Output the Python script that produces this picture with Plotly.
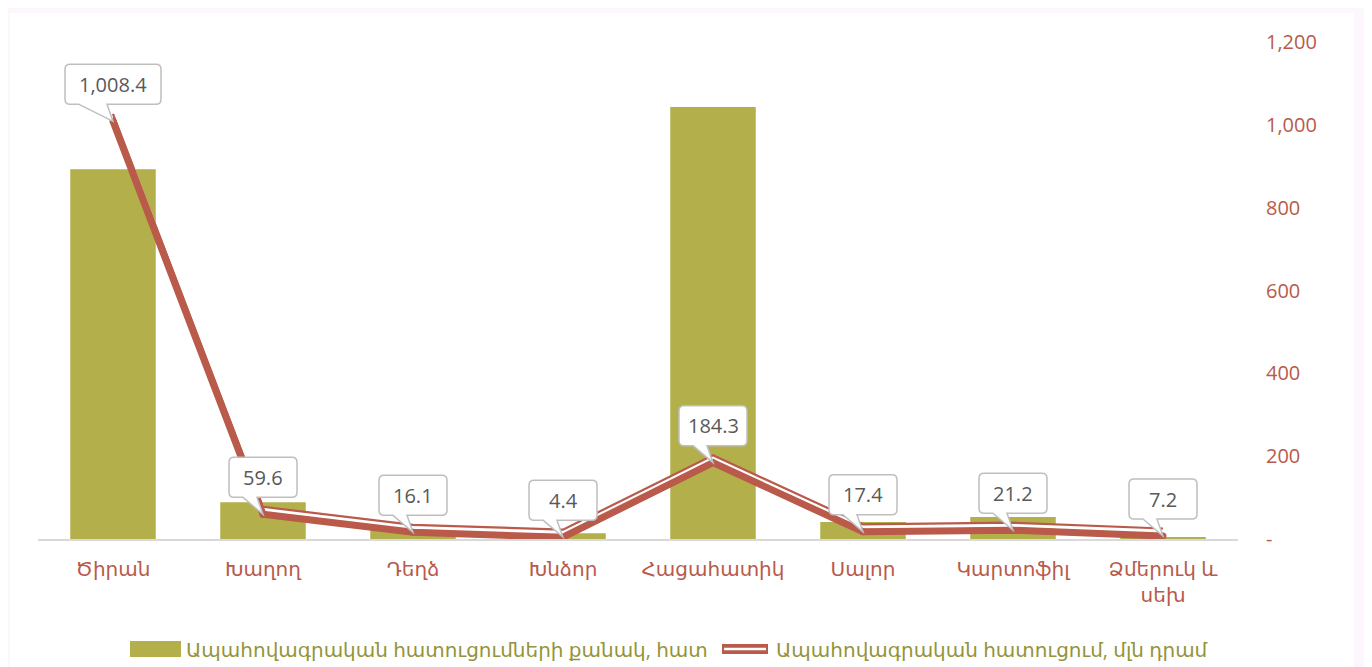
import plotly.graph_objects as go

categories = ["Ծիրան", "Խաղող", "Դեղձ", "Խնձոր", "Հացահատիկ", "Սալոր", "Կարտոֆիլ", "Ձմերուկ և<br>սեխ"]
claims_count = [893, 89, 29, 14, 1043, 41, 53, 4]
claims_amount = [1008.4, 59.6, 16.1, 4.4, 184.3, 17.4, 21.2, 7.2]
amount_labels = ["1,008.4", "59.6", "16.1", "4.4", "184.3", "17.4", "21.2", "7.2"]
y_tickvals = [0, 200, 400, 600, 800, 1000, 1200]
y_ticktext = ["-", "200", "400", "600", "800", "1,000", "1,200"]

name_bar = "Ապահովագրական հատուցումների քանակ, հատ"
name_line = "Ապահովագրական հատուցում, մլն դրամ"

# the page body has an 8px margin; figure sized/placed to compensate
BODY = 8
W, H = 1372 - BODY, 667 - BODY
ML, MT = 38 - BODY, 42 - BODY
PLOT_R, PLOT_B = 1238 - BODY, 539 - BODY
MR, MB = W - PLOT_R, H - PLOT_B
plot_w = W - ML - MR
plot_h = H - MT - MB
YMAX = 1200
px2u = YMAX / plot_h


def px_x(px):
    return (px - BODY - ML) / plot_w


def px_y(py):
    return (PLOT_B - (py - BODY)) / plot_h


RED = "#b95a4b"
OLIVE = "#b3af4a"
LEG_TXT = "#94943a"
FONT = "Open Sans, DejaVu Sans, sans-serif"

xs = list(range(len(categories)))

fig = go.Figure()
fig.add_trace(go.Bar(
    x=xs, y=claims_count, name=name_bar, marker=dict(color=OLIVE, line=dict(width=0)),
    width=0.57, yaxis="y", showlegend=False,
))
fig.add_trace(go.Scatter(
    x=xs, y=[v + 5 * px2u for v in claims_amount], mode="lines",
    line=dict(color="white", width=4), yaxis="y2", showlegend=False, hoverinfo="skip",
))
fig.add_trace(go.Scatter(
    x=xs, y=[v + 7.5 * px2u for v in claims_amount], mode="lines",
    line=dict(color=RED, width=2.2), yaxis="y2", showlegend=False, hoverinfo="skip",
))
fig.add_trace(go.Scatter(
    x=xs, y=claims_amount, mode="lines+markers", name=name_line,
    line=dict(color=RED, width=7), marker=dict(color=RED, size=7), yaxis="y2",
    showlegend=False,
))

shapes = [dict(type="rect", xref="paper", yref="paper",
               x0=px_x(10), x1=px_x(1354), y0=px_y(700), y1=px_y(13),
               fillcolor="white", line=dict(width=0), layer="below")]
annotations = []
for i, (v, lab) in enumerate(zip(claims_amount, amount_labels)):
    bw = max(68, 14 * len(lab) - 2)
    h = bw / 2
    b, t, r = 17, 57, 5
    bl, br = -h + 14, -6
    path = (f"M {bl},{b} L 0,0 L {br},{b} L {h - r},{b} Q {h},{b} {h},{b + r} "
            f"L {h},{t - r} Q {h},{t} {h - r},{t} L {-h + r},{t} Q {-h},{t} {-h},{t - r} "
            f"L {-h},{b + r} Q {-h},{b} {-h + r},{b} Z")
    shapes.append(dict(type="path", xref="x", yref="y2", xsizemode="pixel", ysizemode="pixel",
                       xanchor=i, yanchor=v, path=path, fillcolor="white",
                       line=dict(color="#bfbfbf", width=1.5), layer="above"))
    annotations.append(dict(x=i, y=v, xref="x", yref="y2", text=lab, showarrow=False,
                            yshift=37, font=dict(family=FONT, size=20, color="#595959")))

# custom legend (wide symbols as in the original)
shapes.append(dict(type="rect", xref="paper", yref="paper", x0=px_x(130), x1=px_x(181),
                   y0=px_y(657), y1=px_y(641), fillcolor=OLIVE, line=dict(width=0)))
shapes.append(dict(type="line", xref="paper", yref="paper", x0=px_x(722), x1=px_x(768),
                   y0=px_y(649), y1=px_y(649), line=dict(color=RED, width=10)))
shapes.append(dict(type="line", xref="paper", yref="paper", x0=px_x(724), x1=px_x(766),
                   y0=px_y(649), y1=px_y(649), line=dict(color="white", width=2.5)))
annotations.append(dict(x=px_x(184), y=px_y(649), xref="paper", yref="paper", text=name_bar,
                        showarrow=False, xanchor="left", yanchor="middle",
                        font=dict(family=FONT, size=20, color=LEG_TXT)))
annotations.append(dict(x=px_x(774), y=px_y(649), xref="paper", yref="paper", text=name_line,
                        showarrow=False, xanchor="left", yanchor="middle",
                        font=dict(family=FONT, size=20, color=LEG_TXT)))

fig.update_layout(
    width=W, height=H,
    margin=dict(l=ML, r=MR, t=MT, b=MB, autoexpand=False),
    paper_bgcolor="#fdf6fc", plot_bgcolor="white",
    font=dict(family=FONT),
    xaxis=dict(range=[-0.5, len(categories) - 0.5], tickvals=xs, ticktext=categories,
               showgrid=False, zeroline=False, showline=True, linecolor="#d9d9d9", linewidth=1.5,
               ticks="", ticklabelstandoff=11,
               tickfont=dict(family=FONT, size=20, color=RED)),
    yaxis=dict(range=[0, YMAX], visible=False, showgrid=False),
    yaxis2=dict(range=[0, YMAX], overlaying="y", side="right", tickvals=y_tickvals,
                ticktext=y_ticktext, showgrid=False, zeroline=False, showline=False, ticks="",
                ticklabelstandoff=27, tickfont=dict(family=FONT, size=20, color=RED)),
    shapes=shapes,
    annotations=annotations,
    showlegend=False,
)

fig.write_html("out.html")
